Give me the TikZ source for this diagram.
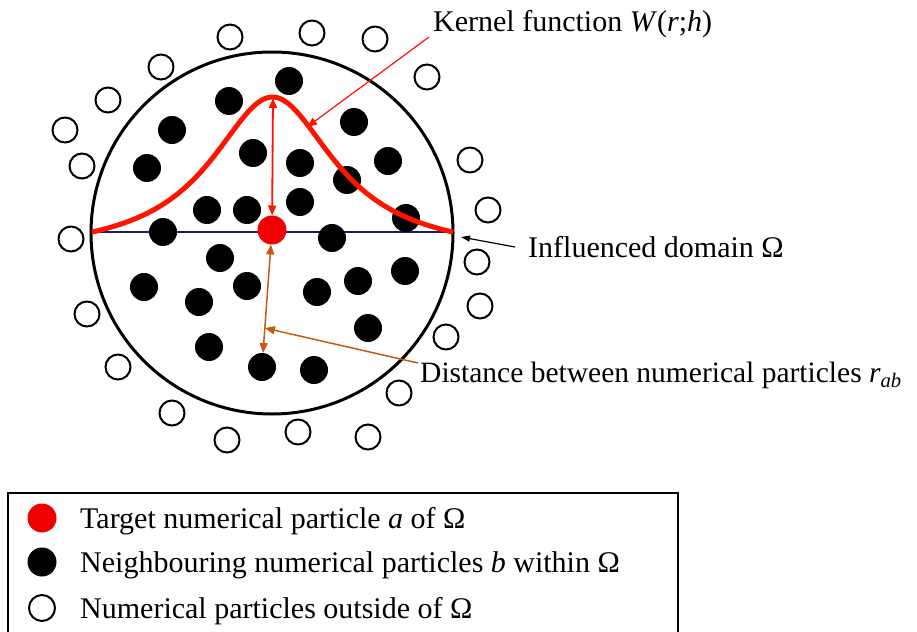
\documentclass[tikz,border=0pt]{standalone}
\usepackage{fontspec}
\setmainfont{Liberation Serif}
\usetikzlibrary{arrows.meta}
\definecolor{kred}{RGB}{255,20,0}
\definecolor{dotred}{RGB}{240,0,0}
\definecolor{navyline}{RGB}{25,25,110}
\definecolor{dorange}{RGB}{197,90,17}
\begin{document}
\begin{tikzpicture}[x=1pt,y=-1pt,
  blk/.style={circle,fill=black,minimum size=28pt,inner sep=0,outer sep=0},
  wht/.style={circle,draw=black,line width=2pt,fill=white,minimum size=25pt,inner sep=0,outer sep=0},
  tgt/.style={circle,fill=dotred,minimum size=29pt,inner sep=0,outer sep=0},
  lbl/.style={inner sep=0,anchor=base west,font=\fontsize{30}{36}\selectfont},
  tipr/.style={-{Triangle[length=10pt,width=8pt]}},
  tipb/.style={-{Triangle[length=9pt,width=6pt]}},
  dtip/.style={{Triangle[length=10pt,width=8pt]}-{Triangle[length=10pt,width=8pt]}}]
\useasboundingbox (0,0) rectangle (917,631);
\fill[white] (0,0) rectangle (917,631);
% influenced domain
\node[circle,draw=black,line width=3pt,minimum size=362pt,inner sep=0,outer sep=0] (dom) at (272,233) {};
\coordinate (lend) at (92,232);
\coordinate (rend) at (453,232);
\draw[navyline,line width=2pt] (lend) -- (rend);
% neighbouring particles
\foreach \x/\y [count=\i] in {289/81,229/101,172/130,354/122,253/153,300/163,147/168,388/161,347/180,207/210,247/210,300/202,406/218,163/232,332/238,220/258,144/287,199/302,247/286,317/292,358/281,405/271,368/328,209/347,262/367,314/370}
  \node[blk] (b\i) at (\x,\y) {};
% particles outside
\foreach \x/\y [count=\i] in {230/37,312/33,375/39,427/77,161/67,108/100,65/130,82/166,71/239,470/160,488/210,477/262,480/306,446/337,399/393,368/437,298/432,227/440,172/413,118/367,87/314}
  \node[wht] (o\i) at (\x,\y) {};
% kernel curve
\draw[kred,line width=5pt,line join=round]
  plot[domain=92:453,samples=120] (\x,{232-135*(1/(1+((\x-272.5)/76)^2)-0.1510)/0.8490});
% target particle
\node[tgt] (a) at (272,230) {};
\coordinate (peak) at (273,98);
\draw[kred,line width=1.8pt,dtip] (peak) -- (a);
% distance arrow
\draw[dorange,line width=1.5pt,dtip] (a) -- (b25);
\path (a) -- (b25) coordinate[pos=0.77] (rmid);
% labels
\node[lbl] (kern) at (433,32) {Kernel function \textit{W}(\textit{r};\textit{h})};
\node[lbl] (infl) at (528,257) {Influenced domain Ω};
\node[lbl,font=\fontsize{29.5}{35}\selectfont] (dist) at (420,382) {Distance between numerical particles \textit{r}\textsubscript{\textit{ab}}};
\coordinate (kstart) at (429,37);
\coordinate (ktip) at (307,127);
\draw[kred,line width=1.2pt,tipr] (kstart) -- (ktip);
\coordinate (istart) at (515,247);
\coordinate (itip) at (461,237);
\draw[black,line width=1.2pt,tipb] (istart) -- (itip);
\coordinate (dstart) at (418,363);
\draw[dorange,line width=1.5pt,tipr] (dstart) -- (rmid);
% legend
\draw[line width=2pt] (8,650) -- (8,493) -- (678,493) -- (678,650);
\node[tgt] (la) at (42,518) {};
\node[blk,minimum size=29pt] (lb) at (42,562) {};
\node[wht,minimum size=26pt] (lo) at (42,608) {};
\node[lbl] (l1) at (80,528) {Target numerical particle \textit{a} of Ω};
\node[lbl] (l2) at (80,572) {Neighbouring numerical particles \textit{b} within Ω};
\node[lbl] (l3) at (80,618) {Numerical particles outside of Ω};
\end{tikzpicture}
\end{document}
